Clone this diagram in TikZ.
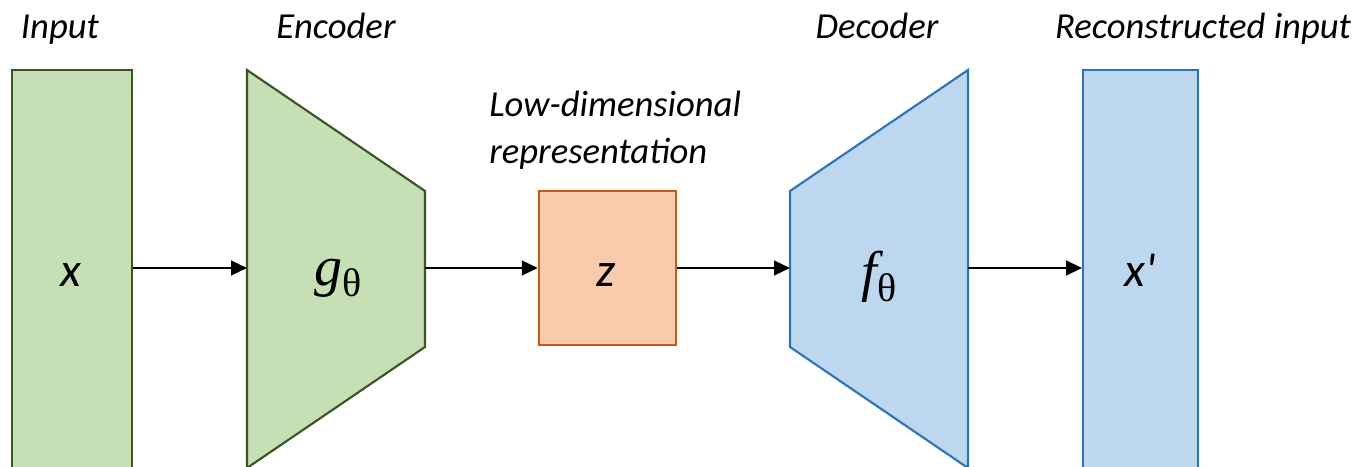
\documentclass[tikz,border=0pt]{standalone}
\usepackage{fontspec}
\setmainfont{Carlito}
\newfontfamily\symserif{Liberation Serif}
\usetikzlibrary{arrows.meta,positioning}
\definecolor{encfill}{HTML}{C5E0B4}
\definecolor{encline}{HTML}{385723}
\definecolor{decfill}{HTML}{BDD7EE}
\definecolor{decline}{HTML}{2E75B6}
\definecolor{latfill}{HTML}{F8CBAD}
\definecolor{latline}{HTML}{C55A11}
\newcommand{\paramfn}[1]{{\symserif\itshape #1}\raisebox{-0.2em}{\symserif\fontsize{30}{30}\selectfont θ}}

\begin{document}
\begin{tikzpicture}[x=0.75pt, y=-0.75pt,
  lbl/.style={font=\fontsize{27.5}{35}\selectfont\itshape, anchor=base, inner sep=0pt},
  sym/.style={font=\fontsize{36}{36}\selectfont\itshape, anchor=base, inner sep=0pt},
  fn/.style={font=\fontsize{42}{42}\selectfont, anchor=base, inner sep=0pt},
  enc/.style={draw=encline, fill=encfill, line width=1.6pt},
  dec/.style={draw=decline, fill=decfill, line width=1.6pt},
  vec/.style={rectangle, inner sep=0pt, minimum width=#1},
  arr/.style={-{Triangle[length=12pt,width=11pt]}, line width=1.8pt, black}]
\useasboundingbox (0,0) rectangle (1363,467);
% input and reconstruction
\node[vec=90pt, enc, minimum height=306pt] (inp) at (72,274) {};
\node[vec=86pt, dec, minimum height=306pt] (rec) at (1140.5,274) {};
\node[vec=103pt, draw=latline, fill=latfill, line width=1.6pt,
  minimum height=115.5pt] (lat) at (607.5,268) {};
% encoder / decoder
\draw[enc] (247,70) -- (425,191) -- (425,347) -- (247,468) -- cycle;
\draw[dec] (790,191) -- (968,70) -- (968,468) -- (790,347) -- cycle;
\coordinate (encin) at (247,268);
\coordinate (encout) at (425,268);
\coordinate (decin) at (790,268);
\coordinate (decout) at (968,268);
% texts
\node[lbl] (tin) at (60,39) {Input};
\node[lbl] (tenc) at (336,39) {Encoder};
\node[lbl] (tdec) at (877,39) {Decoder};
\node[lbl] (trec) at (1203,39) {Reconstructed input};
\node[lbl, anchor=base west] (tlow) at (489,116) {Low-dimensional};
\node[lbl, anchor=base west] (trep) at (489,163) {representation};
\node[sym] (x) at (71,286) {x};
\node[sym] (z) at (606,286) {z};
\node[sym] (xr) at (1140,286) {x\textquotesingle};
\node[fn] (g) at (338,285) {\paramfn{g}};
\node[fn] (f) at (879,290) {\paramfn{f}};
% arrows
\draw[arr] (inp.east |- encin) -- (encin);
\draw[arr] (encout) -- (lat.west);
\draw[arr] (lat.east) -- (decin);
\draw[arr] (decout) -- (rec.west |- decout);
\end{tikzpicture}
\end{document}
